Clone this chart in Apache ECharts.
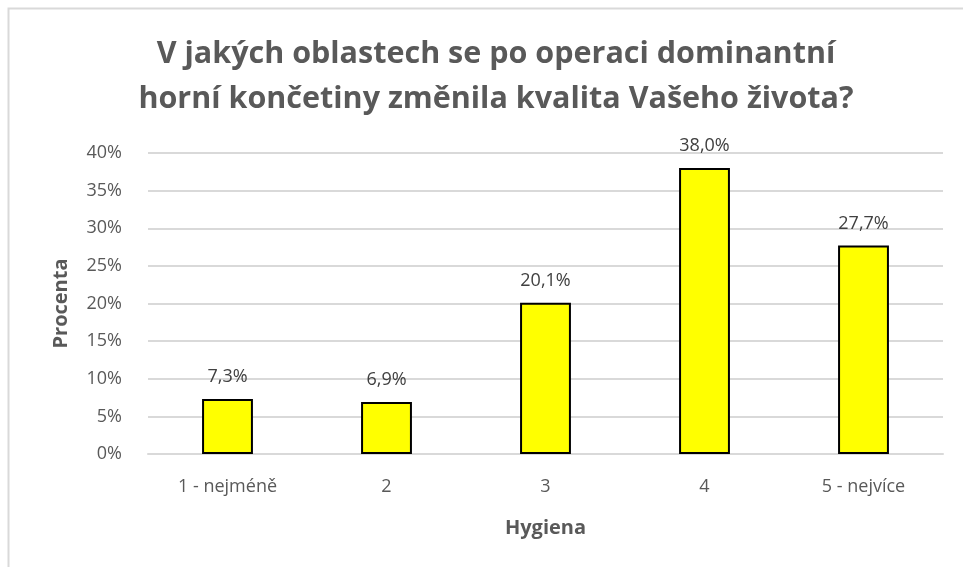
<!DOCTYPE html>
<html lang="cs">
<head>
    <meta charset="UTF-8">
    <title>Hygiena</title>
    <script src="https://cdn.jsdelivr.net/npm/echarts@6.0.0/dist/echarts.min.js"></script>
    <style>
        html, body { margin: 0; padding: 0; background: #fff; }
        #t1 { width: 963px; height: 567px; }
    </style>
</head>
<body>
<div id="t1"></div>
<script>
    // data
    var categories = ['1 - nejméně', '2', '3', '4', '5 - nejvíce'];
    var values = [7.3, 6.9, 20.1, 38.0, 27.7];
    var titleLines = ['V jakých oblastech se po operaci dominantní', 'horní končetiny změnila kvalita Vašeho života?'];
    var xName = 'Hygiena';
    var yName = 'Procenta';

    var font = '"Open Sans", "Noto Sans", sans-serif';

    var chart = echarts.init(document.getElementById('t1'));
    var option = {
        backgroundColor: '#fff',
        animation: false,
        graphic: [{
            type: 'rect',
            shape: {x: 8.5, y: 8.5, width: 1000, height: 600},
            style: {fill: 'none', stroke: '#d9d9d9', lineWidth: 2}
        }],
        title: {
            text: titleLines.join('\n'),
            left: 491,
            textAlign: 'center',
            top: 27,
            textStyle: {
                fontFamily: font,
                fontSize: 30.5,
                fontWeight: 'bold',
                color: '#595959',
                lineHeight: 45
            }
        },
        grid: {
            left: 148,
            right: 20,
            top: 153,
            bottom: 113,
            containLabel: false
        },
        xAxis: {
            type: 'category',
            data: categories,
            name: xName,
            nameLocation: 'middle',
            nameGap: 64,
            nameTextStyle: {fontFamily: font, fontSize: 20, fontWeight: 'bold', color: '#595959'},
            axisLine: {lineStyle: {color: '#d9d9d9', width: 2}},
            axisTick: {show: false},
            axisLabel: {fontFamily: font, fontSize: 18, color: '#595959', margin: 24, interval: 0}
        },
        yAxis: {
            type: 'value',
            min: 0,
            max: 40,
            interval: 5,
            name: yName,
            nameLocation: 'middle',
            nameGap: 77,
            nameTextStyle: {fontFamily: font, fontSize: 20, fontWeight: 'bold', color: '#595959'},
            axisLine: {show: false},
            axisTick: {show: false},
            splitLine: {lineStyle: {color: '#d9d9d9', width: 2}},
            axisLabel: {
                fontFamily: font, fontSize: 18, color: '#595959', margin: 26,
                formatter: function (v) { return v + '%'; }
            }
        },
        series: [{
            type: 'bar',
            data: values,
            barWidth: '32%',
            itemStyle: {color: '#ffff00', borderColor: '#000', borderWidth: 2},
            label: {
                show: true,
                position: 'top',
                distance: 13,
                fontFamily: font,
                fontSize: 18,
                color: '#404040',
                formatter: function (p) { return p.value.toFixed(1).replace('.', ',') + '%'; }
            }
        }]
    };
    chart.setOption(option);
</script>
</body>
</html>
